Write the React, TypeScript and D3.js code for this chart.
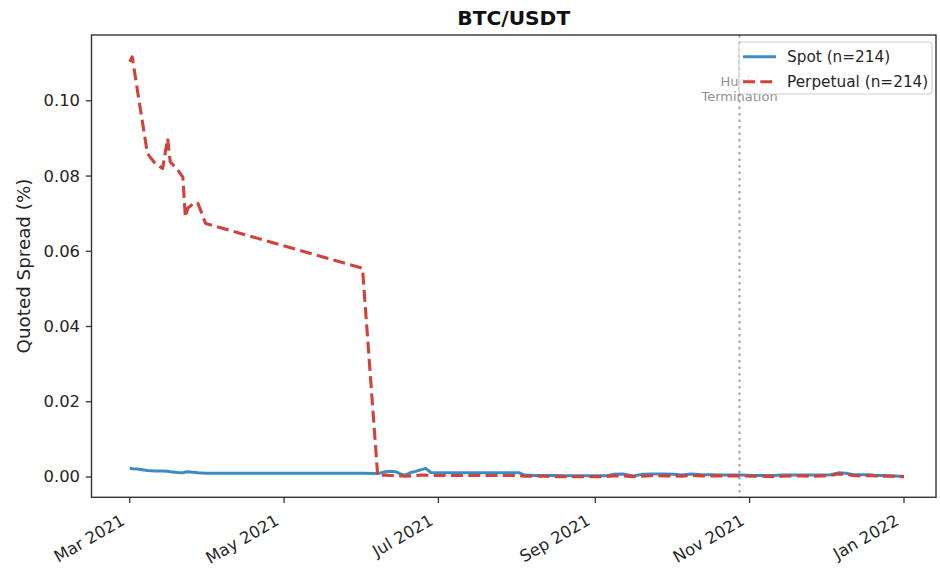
import React from "react";
import * as d3 from "d3";

const dates: string[] = [
  "2021-03-01", "2021-03-02", "2021-03-04", "2021-03-06", "2021-03-08", "2021-03-11", "2021-03-14", "2021-03-16",
  "2021-03-17", "2021-03-20", "2021-03-22", "2021-03-23", "2021-03-24", "2021-03-27", "2021-03-28", "2021-03-31",
  "2021-06-01", "2021-06-07", "2021-06-10", "2021-06-12", "2021-06-14", "2021-06-16", "2021-06-18", "2021-06-20",
  "2021-06-22", "2021-06-24", "2021-06-26", "2021-06-28", "2021-06-30",
  "2021-07-05", "2021-07-10", "2021-07-15", "2021-07-20", "2021-07-25", "2021-07-30",
  "2021-08-02", "2021-08-04", "2021-08-08", "2021-08-12", "2021-08-16", "2021-08-20", "2021-08-24", "2021-08-28",
  "2021-09-01", "2021-09-05", "2021-09-08", "2021-09-12", "2021-09-16", "2021-09-20", "2021-09-24", "2021-09-28",
  "2021-10-02", "2021-10-05", "2021-10-09", "2021-10-13", "2021-10-17", "2021-10-21", "2021-10-25", "2021-10-29",
  "2021-11-02", "2021-11-06", "2021-11-10", "2021-11-14", "2021-11-18", "2021-11-22", "2021-11-26", "2021-11-30",
  "2021-12-03", "2021-12-06", "2021-12-09", "2021-12-12", "2021-12-15", "2021-12-18", "2021-12-21", "2021-12-24",
  "2021-12-27", "2021-12-30",
  "2022-01-01",
];

const spotValues: number[] = [
  0.0023, 0.0022, 0.0021, 0.0019, 0.0017, 0.0016, 0.0016, 0.0015, 0.0014, 0.0012, 0.0011, 0.0013, 0.0014, 0.0012, 0.0011, 0.0010,
  0.0010, 0.0009, 0.0014, 0.0015, 0.0014, 0.0008, 0.0005, 0.0012, 0.0015, 0.0019, 0.0023, 0.0012, 0.0011,
  0.0011, 0.0011, 0.0011, 0.0011, 0.0011, 0.0011,
  0.0011, 0.0005, 0.0004, 0.0004, 0.0004, 0.0003, 0.0003, 0.0003,
  0.0003, 0.0003, 0.0007, 0.0008, 0.0003, 0.0007, 0.0008, 0.0008,
  0.0007, 0.0005, 0.0008, 0.0006, 0.0006, 0.0005, 0.0005, 0.0005,
  0.0004, 0.0004, 0.0004, 0.0005, 0.0005, 0.0005, 0.0005, 0.0005,
  0.0006, 0.0011, 0.0010, 0.0006, 0.0006, 0.0006, 0.0004, 0.0004, 0.0003, 0.0002,
  0.0002,
];

const perpValues: number[] = [
  0.1104, 0.1117, 0.1030, 0.0945, 0.0860, 0.0834, 0.0820, 0.0900, 0.0838, 0.0816, 0.0797, 0.0691, 0.0715, 0.0731, 0.0727, 0.0674,
  0.0555, 0.0004, 0.0005, 0.0004, 0.0004, 0.0003, 0.0002, 0.0003, 0.0004, 0.0005, 0.0005, 0.0004, 0.0004,
  0.0004, 0.0004, 0.0004, 0.0004, 0.0004, 0.0004,
  0.0004, 0.0002, 0.0002, 0.0002, 0.0001, 0.0001, 0.0001, 0.0001,
  0.0001, 0.0001, 0.0003, 0.0003, 0.0001, 0.0002, 0.0004, 0.0003,
  0.0003, 0.0002, 0.0004, 0.0003, 0.0003, 0.0003, 0.0003, 0.0003,
  0.0002, 0.0002, 0.0001, 0.0002, 0.0003, 0.0003, 0.0002, 0.0003,
  0.0004, 0.0008, 0.0007, 0.0004, 0.0003, 0.0004, 0.0003, 0.0002, 0.0002, 0.0001,
  0.0001,
];

const xTickDates: string[] = ["2021-03-01", "2021-05-01", "2021-07-01", "2021-09-01", "2021-11-01", "2022-01-01"];
const xTickLabels: string[] = ["Mar 2021", "May 2021", "Jul 2021", "Sep 2021", "Nov 2021", "Jan 2022"];
const yTicks: number[] = [0, 0.02, 0.04, 0.06, 0.08, 0.1];
const eventDate = "2021-10-28";
const eventLabel: string[] = ["Huobi", "Termination"];
const seriesNames: string[] = ["Spot (n=214)", "Perpetual (n=214)"];
const title = "BTC/USDT";
const yLabel = "Quoted Spread (%)";

const W = 940;
const H = 573;
const left = 91.5;
const right = 936;
const top = 35;
const bottom = 497.3;
const FONT = "DejaVu Sans, sans-serif";
const BLUE = "#3f8ac4";
const RED = "#d0433b";

export default function App() {
  const parse = d3.utcParse("%Y-%m-%d");
  const parsed = dates.map((d) => parse(d) as Date);
  const x = d3
    .scaleUtc()
    .domain([parse("2021-03-01") as Date, parse("2022-01-01") as Date])
    .range([129.7, 904]);
  const y = d3.scaleLinear().domain([-0.0054, 0.1175]).range([bottom, top]);

  const line = d3
    .line<number>()
    .x((_, i) => x(parsed[i]))
    .y((v) => y(v));

  const fmt = d3.format(".2f");
  const evX = x(parse(eventDate) as Date);
  const tickFont = 16.4;

  return (
    <svg
      width={W}
      height={H}
      style={{ position: "absolute", left: 0, top: 0, background: "#fff" }}
      fontFamily={FONT}
    >
      <rect x={0} y={0} width={W} height={H} fill="#fff" />
      <defs>
        <clipPath id="plotclip">
          <rect x={left} y={top} width={right - left} height={bottom - top} />
        </clipPath>
      </defs>

      {/* title */}
      <text x={(left + right) / 2} y={25} textAnchor="middle" fontSize={20.2} fontWeight="bold" fill="#111">
        {title}
      </text>

      {/* y label */}
      <text
        transform={`translate(23,266) rotate(-90)`}
        textAnchor="middle"
        dominantBaseline="central"
        fontSize={18.3}
        fill="#262626"
      >
        {yLabel}
      </text>

      <g clipPath="url(#plotclip)">
        {/* event line */}
        <line
          x1={evX}
          x2={evX}
          y1={top}
          y2={bottom}
          stroke="#808080"
          strokeOpacity={0.75}
          strokeWidth={2}
          strokeDasharray="2.5,4"
        />
        <text x={evX} y={86} textAnchor="middle" fontSize={13} fill="#909090">
          <tspan x={evX} dy={0}>{eventLabel[0]}</tspan>
          <tspan x={evX} dy={15}>{eventLabel[1]}</tspan>
        </text>
        <path d={line(spotValues) || ""} fill="none" stroke={BLUE} strokeWidth={3} strokeLinejoin="round" />
        <path
          d={line(perpValues) || ""}
          fill="none"
          stroke={RED}
          strokeWidth={3.1}
          strokeDasharray="12,5.3"
          strokeLinejoin="round"
        />
      </g>

      {/* axes frame */}
      <rect x={left} y={top} width={right - left} height={bottom - top} fill="none" stroke="#333" strokeWidth={1.4} />

      {/* y ticks */}
      {yTicks.map((t) => (
        <g key={t}>
          <line x1={left} x2={left - 5.7} y1={y(t)} y2={y(t)} stroke="#333" strokeWidth={1.3} />
          <text
            x={left - 11.5}
            y={y(t)}
            textAnchor="end"
            dominantBaseline="central"
            fontSize={tickFont}
            fill="#262626"
          >
            {fmt(t)}
          </text>
        </g>
      ))}

      {/* x ticks */}
      {xTickDates.map((d, i) => {
        const tx = x(parse(d) as Date);
        return (
          <g key={d}>
            <line x1={tx} x2={tx} y1={bottom} y2={bottom + 5.7} stroke="#333" strokeWidth={1.3} />
            <text
              transform={`translate(${tx - 4},${bottom + 26.5}) rotate(-30)`}
              textAnchor="end"
              fontSize={tickFont}
              fill="#262626"
            >
              {xTickLabels[i]}
            </text>
          </g>
        );
      })}

      {/* legend */}
      <g>
        <rect x={739} y={42} width={193} height={52} rx={3} fill="#fff" fillOpacity={0.8} stroke="#d0d0d0" strokeWidth={1.2} />
        <line x1={743} x2={776} y1={56.7} y2={56.7} stroke={BLUE} strokeWidth={3} />
        <line x1={743} x2={776} y1={81.7} y2={81.7} stroke={RED} strokeWidth={3.1} strokeDasharray="12,5.3" />
        <text x={787} y={56.7} dominantBaseline="central" fontSize={15.3} fill="#262626">
          {seriesNames[0]}
        </text>
        <text x={787} y={81.7} dominantBaseline="central" fontSize={15.3} fill="#262626">
          {seriesNames[1]}
        </text>
      </g>
    </svg>
  );
}
